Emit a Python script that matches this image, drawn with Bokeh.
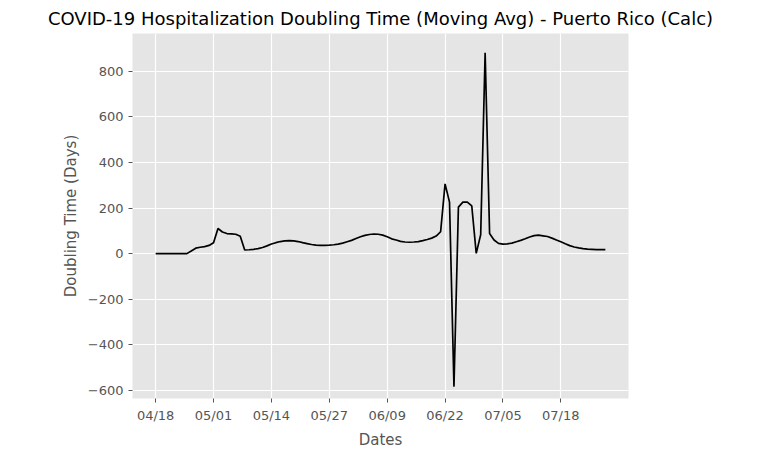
import datetime as dt
from bokeh.plotting import figure
from bokeh.models import FixedTicker, Range1d
from bokeh.embed import file_html
from bokeh.resources import INLINE

# doubling time (days), one value per day from 04/18
doubling = [0, 0, 0, 0, 0, 0, 0, 0, 12, 24, 28, 31, 36, 48, 110, 95, 88, 87, 85, 76, 16,
            17, 19, 22, 27, 34, 42, 48, 53, 56, 57, 56, 53, 48, 44, 40, 37, 36, 36, 37, 39,
            42, 46, 52, 58, 66, 74, 80, 84, 86, 85, 81, 74, 65, 60, 54, 51, 50, 51, 53, 57,
            62, 68, 77, 96, 306, 226, -583, 204, 226, 226, 209, 1, 83, 881, 88, 60,
            45, 42, 43, 46, 52, 58, 65, 73, 79, 81, 78, 75, 68, 60, 52, 43, 35, 29, 25, 22,
            20, 19, 18, 18, 18]
start = dt.date(2020, 4, 18)
dates = [start + dt.timedelta(days=i) for i in range(len(doubling))]
days = list(range(len(doubling)))
tick_days = list(range(0, 92, 13))
tick_labels = {d: dates[d].strftime("%m/%d") for d in tick_days}
y_ticks = [-600, -400, -200, 0, 200, 400, 600, 800]

p = figure(width=760, height=457, output_backend="svg", toolbar_location=None,
           title="COVID-19 Hospitalization Doubling Time (Moving Avg) - Puerto Rico (Calc)",
           x_range=Range1d(-5.2, 106.2), y_range=Range1d(-635, 965),
           min_border_left=132, min_border_right=132, min_border_bottom=59, min_border_top=8)
p.background_fill_color = "#E5E5E5"
p.outline_line_color = None
p.title.align = "center"
p.title.text_font = "DejaVu Sans"
p.title.text_font_size = "18px"
p.title.text_font_style = "normal"
p.title.text_color = "black"

p.line(days, doubling, color="black", line_width=1.7)

p.xaxis.ticker = FixedTicker(ticks=tick_days)
p.xaxis.major_label_overrides = tick_labels
p.yaxis.ticker = FixedTicker(ticks=y_ticks)
p.xaxis.axis_label = "Dates"
p.yaxis.axis_label = "Doubling Time (Days)"
for ax in (p.xaxis, p.yaxis):
    ax.axis_line_color = None
    ax.minor_tick_line_color = None
    ax.major_tick_line_color = "#555555"
    ax.major_tick_in = 0
    ax.major_tick_out = 4
    ax.major_label_text_color = "#555555"
    ax.major_label_text_font = "DejaVu Sans"
    ax.major_label_text_font_size = "13px"
    ax.axis_label_text_color = "#555555"
    ax.axis_label_text_font = "DejaVu Sans"
    ax.axis_label_text_font_size = "15px"
    ax.axis_label_text_font_style = "normal"
p.grid.grid_line_color = "white"
p.grid.grid_line_width = 1.2

open("out.html", "w").write(file_html(p, INLINE))
